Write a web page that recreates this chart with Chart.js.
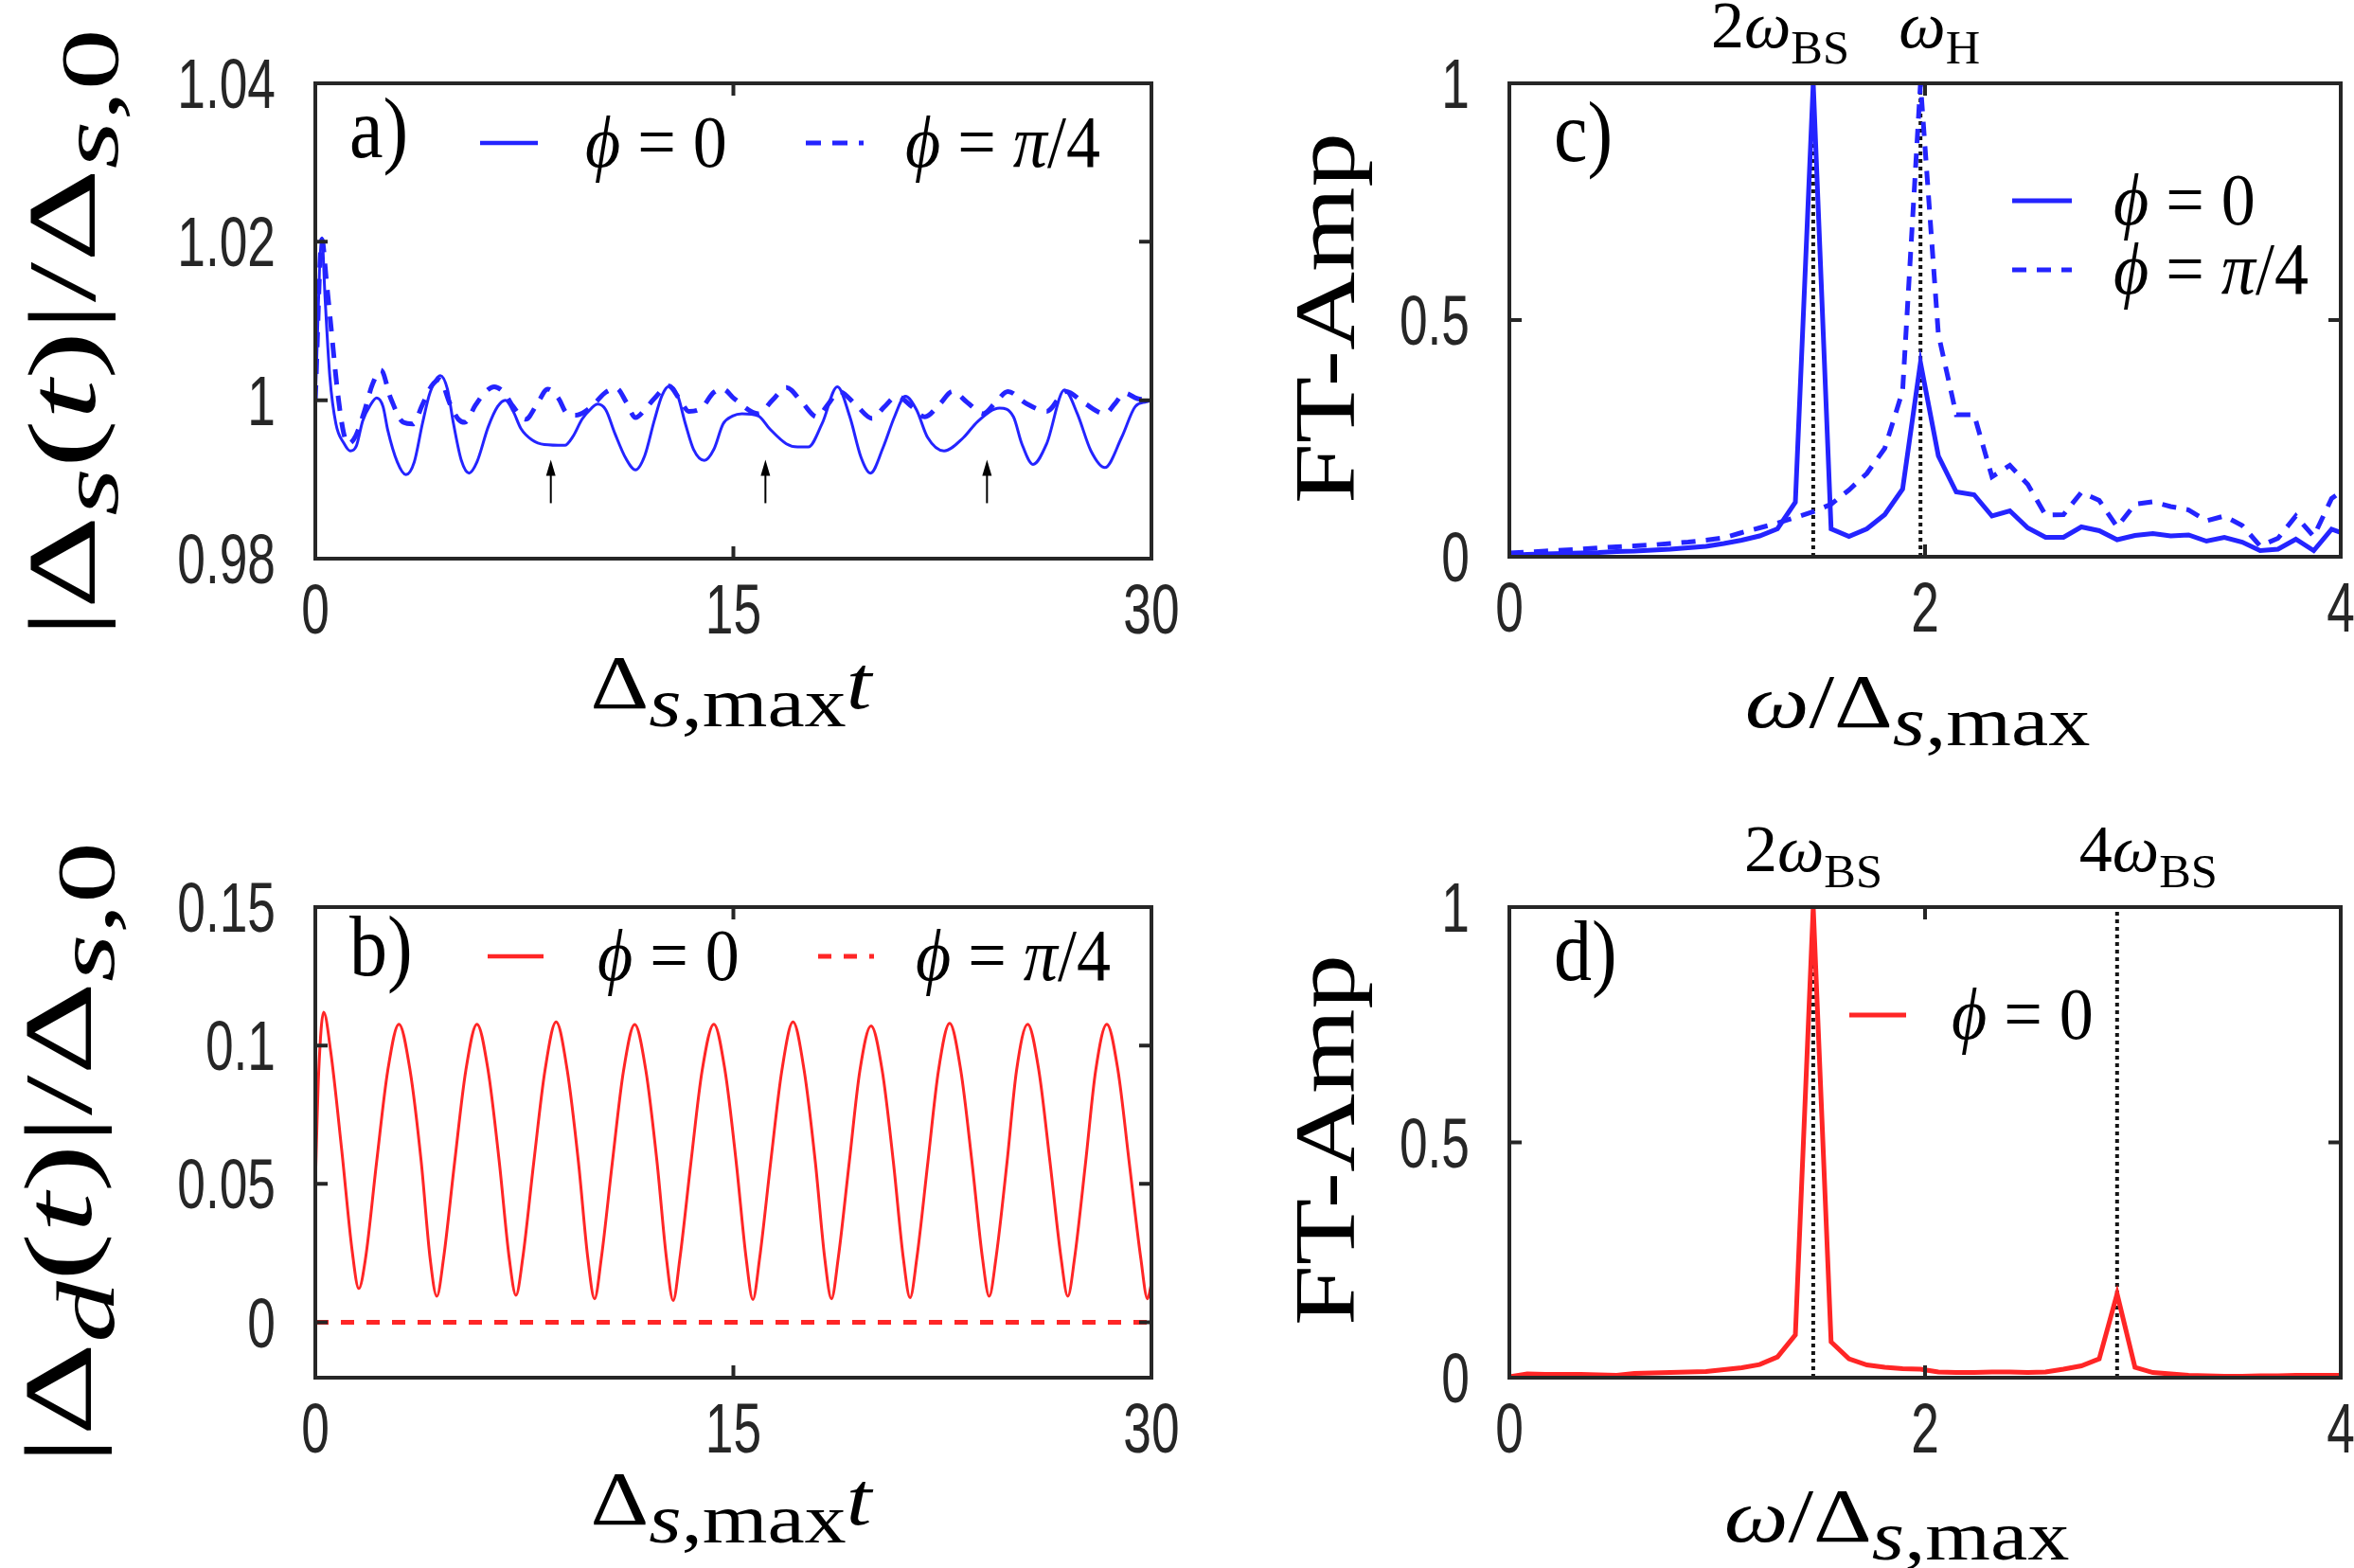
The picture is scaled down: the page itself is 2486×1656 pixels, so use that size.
<!DOCTYPE html>
<html>
<head>
<meta charset="utf-8">
<script src="https://cdn.jsdelivr.net/npm/chart.js@4.4.1/dist/chart.umd.min.js"></script>
<style>
  html, body { margin: 0; padding: 0; background: #fff; }
  #fig { position: relative; width: 2486px; height: 1656px; }
  #fig canvas { position: absolute; left: 0; top: 0; }
</style>
</head>
<body>
<div id="fig">
  <canvas id="pa" width="2486" height="1656"></canvas>
  <canvas id="pb" width="2486" height="1656"></canvas>
  <canvas id="pc" width="2486" height="1656"></canvas>
  <canvas id="pd" width="2486" height="1656"></canvas>
</div>
<script>
/* ===== data ===== */
// a) |Δs(t)|/Δs,0, phi = 0
const tA0 = [0, 0.236, 0.35, 0.52, 0.74, 1.02, 1.25, 1.47, 1.70, 1.98, 2.20, 2.43, 2.60, 2.94, 3.25, 3.55, 3.84, 4.12, 4.49, 4.74,
  4.96, 5.24, 5.52, 5.80, 6.20, 6.54, 6.82, 7.10, 7.38, 7.77, 8.22, 8.95, 9.24, 9.57, 9.91, 10.13, 10.42, 10.75, 11.15, 11.49,
  11.82, 12.16, 12.44, 12.72, 13.0, 13.28, 13.57, 13.96, 14.3, 14.63, 14.97, 15.31, 15.90, 16.30, 16.90, 17.30, 17.69, 18.19, 18.73, 19.18,
  19.58, 19.92, 20.38, 20.78, 21.17, 21.57, 21.97, 22.56, 23.26, 23.76, 24.55, 25.05, 25.35, 25.75, 26.24, 26.88, 27.34, 27.83, 28.33, 28.93,
  29.42, 29.82, 30];
const yA0 = [1.0, 1.0205, 1.0129, 1.0030, 0.9970, 0.9946, 0.9936, 0.9942, 0.9974, 0.9994, 1.0003, 0.9992, 0.9962, 0.9922, 0.9906, 0.9922, 0.9970, 1.0010, 1.0031, 1.0014,
  0.9970, 0.9924, 0.9908, 0.9922, 0.9966, 0.9992, 1.0000, 0.9986, 0.9964, 0.9950, 0.9944, 0.9943, 0.9954, 0.9976, 0.9990, 0.9995, 0.9988, 0.9958, 0.9926, 0.9912,
  0.9930, 0.9974, 1.0006, 1.0018, 1.0006, 0.9970, 0.9938, 0.9924, 0.9938, 0.9970, 0.9980, 0.9983, 0.9980, 0.9964, 0.9945, 0.9941, 0.9941, 0.9971, 1.0017, 0.9979,
  0.9928, 0.9908, 0.9941, 0.9979, 1.0005, 0.9988, 0.9953, 0.9936, 0.9953, 0.9973, 0.9990, 0.9979, 0.9945, 0.9919, 0.9945, 1.0013, 0.9983, 0.9936, 0.9915, 0.9953,
  0.9992, 0.9998, 1.0];
// a) phi = pi/4
const tA4 = [0, 0.236, 0.40, 0.57, 0.80, 1.02, 1.19, 1.45, 1.75, 2.05, 2.35, 2.71, 3.16, 3.5, 3.84, 4.17, 4.45, 4.85, 5.13, 5.36,
  5.75, 6.09, 6.42, 6.76, 7.10, 7.55, 7.94, 8.34, 8.73, 9.01, 9.35, 9.69, 10.02, 10.42, 10.81, 11.15, 11.49, 11.82, 12.16, 12.67,
  13.06, 13.4, 13.85, 14.3, 14.63, 15.03, 15.9, 16.4, 16.9, 17.45, 18.0, 18.4, 18.79, 19.4, 19.98, 20.4, 20.87, 21.4, 21.87, 22.4,
  22.86, 23.4, 23.96, 24.4, 24.85, 25.5, 26.24, 26.94, 27.6, 28.33, 28.7, 29.03, 29.5, 30];
const yA4 = [1.0, 1.0203, 1.015, 1.009, 1.001, 0.9958, 0.9945, 0.9955, 0.9985, 1.002, 1.0038, 1.0002, 0.9972, 0.997, 0.9994, 1.0018, 1.0026, 0.9994, 0.9976, 0.9972,
  0.9994, 1.001, 1.0017, 1.001, 0.9992, 0.9976, 0.9994, 1.0014, 1.0002, 0.9984, 0.9981, 0.9986, 0.9996, 1.001, 1.0015, 0.9998, 0.9978, 0.9988, 1.0002, 1.0018,
  1.0002, 0.9986, 0.999, 1.001, 1.0014, 1.0002, 0.9983, 1.0, 1.0016, 0.9998, 0.9979, 0.9995, 1.0011, 0.9994, 0.9977, 0.9991, 1.0005, 0.9992, 0.9979, 0.9995,
  1.0011, 0.9997, 0.9983, 0.9997, 1.0011, 0.9996, 0.9986, 1.0011, 0.9996, 0.9983, 0.9996, 1.0009, 1.0002, 1.0];
const arrowT = [8.45, 16.15, 24.1];          // small arrows in a)
const arrowY = [0.987, 0.9925];              // tail, tip

// b) |Δd(t)|/Δs,0
const tB0 = [0, 0.12, 0.3, 0.55, 0.95, 1.32, 1.56,
  1.80, 2.20, 2.60, 3.0, 3.40, 3.80, 4.12, 4.36,
  4.60, 5.00, 5.40, 5.80, 6.20, 6.60, 6.96, 7.20,
  7.44, 7.84, 8.24, 8.64, 9.04, 9.44, 9.78, 10.02,
  10.26, 10.66, 11.06, 11.46, 11.86, 12.26, 12.60, 12.84,
  13.08, 13.48, 13.88, 14.30, 14.70, 15.10, 15.46, 15.70,
  15.94, 16.34, 16.74, 17.14, 17.54, 17.94, 18.28, 18.52,
  18.76, 19.16, 19.54, 19.94, 20.34, 20.74, 21.10, 21.34,
  21.58, 21.98, 22.36, 22.76, 23.16, 23.56, 23.94, 24.18,
  24.42, 24.82, 25.16, 25.56, 25.96, 26.36, 26.76, 27.00,
  27.24, 27.64, 28.00, 28.40, 28.80, 29.20, 29.62, 29.86, 30];
const yB0 = [0.05, 0.09, 0.112, 0.098, 0.062, 0.026, 0.0122,
  0.023, 0.058, 0.091, 0.1077, 0.091, 0.058, 0.023, 0.0094,
  0.023, 0.058, 0.091, 0.1077, 0.091, 0.058, 0.023, 0.0098,
  0.023, 0.058, 0.091, 0.1085, 0.091, 0.058, 0.023, 0.0085,
  0.023, 0.058, 0.091, 0.1076, 0.091, 0.058, 0.023, 0.0079,
  0.023, 0.058, 0.091, 0.1077, 0.091, 0.058, 0.023, 0.0082,
  0.023, 0.058, 0.091, 0.1085, 0.091, 0.058, 0.023, 0.0085,
  0.023, 0.058, 0.091, 0.1071, 0.091, 0.058, 0.023, 0.0089,
  0.023, 0.058, 0.091, 0.1080, 0.091, 0.058, 0.023, 0.0094,
  0.023, 0.058, 0.091, 0.1077, 0.091, 0.058, 0.023, 0.0094,
  0.023, 0.058, 0.091, 0.1077, 0.091, 0.058, 0.023, 0.0085, 0.014];
const tB4 = [0, 30];
const yB4 = [0, 0];

// c), d) spectra
const freq = [0, 0.086, 0.172, 0.258, 0.344, 0.43, 0.516, 0.602, 0.688, 0.774, 0.86, 0.946, 1.032, 1.118, 1.204, 1.29,
  1.376, 1.462, 1.548, 1.634, 1.72, 1.806, 1.892, 1.978, 2.064, 2.15, 2.236, 2.322, 2.408, 2.494, 2.58, 2.666,
  2.752, 2.838, 2.924, 3.01, 3.096, 3.182, 3.268, 3.354, 3.44, 3.526, 3.612, 3.698, 3.784, 3.87, 3.956, 4.042];
const ampC0 = [0.003, 0.005, 0.006, 0.007, 0.008, 0.009, 0.011, 0.012, 0.014, 0.016, 0.019, 0.022, 0.028, 0.035, 0.044, 0.059,
  0.115, 1.0, 0.059, 0.043, 0.059, 0.089, 0.143, 0.41, 0.213, 0.137, 0.131, 0.086, 0.097, 0.061, 0.041, 0.041,
  0.063, 0.055, 0.036, 0.045, 0.049, 0.044, 0.046, 0.033, 0.041, 0.031, 0.013, 0.016, 0.037, 0.013, 0.058, 0.045];
const ampC4 = [0.008, 0.010, 0.012, 0.014, 0.016, 0.019, 0.021, 0.023, 0.025, 0.028, 0.031, 0.035, 0.040, 0.051, 0.061, 0.071,
  0.083, 0.095, 0.111, 0.141, 0.176, 0.229, 0.35, 1.0, 0.47, 0.30, 0.30, 0.169, 0.193, 0.153, 0.088, 0.089,
  0.136, 0.119, 0.063, 0.111, 0.116, 0.106, 0.099, 0.076, 0.086, 0.066, 0.023, 0.039, 0.086, 0.043, 0.123, 0.15];
const ampD0 = [0.002, 0.008, 0.007, 0.007, 0.007, 0.006, 0.005, 0.009, 0.010, 0.011, 0.012, 0.013, 0.017, 0.021, 0.028, 0.044,
  0.091, 1.0, 0.076, 0.040, 0.027, 0.022, 0.019, 0.018, 0.012, 0.011, 0.011, 0.012, 0.012, 0.011, 0.012, 0.018,
  0.025, 0.040, 0.178, 0.022, 0.011, 0.008, 0.005, 0.004, 0.003, 0.003, 0.004, 0.004, 0.005, 0.005, 0.005, 0.005];
const markC = [1.462, 1.978];   // 2ω_BS, ω_H
const markD = [1.462, 2.924];   // 2ω_BS, 4ω_BS

// axis ticks
const ticksT = [0, 15, 30];
const ticksA = [0.98, 1, 1.02, 1.04];
const ticksB = [0, 0.05, 0.1, 0.15];
const ticksW = [0, 2, 4];
const ticksFT = [0, 0.5, 1];

/* ===== styling ===== */
const W = 2486, H = 1656;
const BLUE = '#2424ff', RED = '#ff2626', INK = '#262626';
const SANS = '"Liberation Sans", Arial, sans-serif';
const SERIF = '"Liberation Serif", "Times New Roman", serif';
const fmt = v => String(+Number(v).toFixed(4));

const pts = (xs, ys) => xs.map((x, i) => ({x, y: ys[i]}));
const line = (data, color, width, dash, smooth) => ({
  data, borderColor: color, borderWidth: width, borderDash: dash || [],
  pointRadius: 0, showLine: true, fill: false, tension: 0,
  cubicInterpolationMode: smooth ? 'monotone' : 'default', clip: 0
});
const vmark = v => line([{x: v, y: 0}, {x: v, y: 1}], '#151515', 4, [4, 4]);

// math text: runs of [text, flags]; flags 'i' italic, 's' subscript
function mathText(ctx, runs, x, y, o) {
  const size = o.size, subR = o.subR || 0.75;
  ctx.save();
  ctx.translate(x, y);
  ctx.scale(o.sx || 1, o.sy || 1);
  if (o.rot) ctx.rotate(-Math.PI / 2);
  let w = 0;
  const items = runs.map(([t, f = '']) => {
    const sub = f.includes('s');
    const font = `${f.includes('i') ? 'italic ' : ''}${sub ? size * subR : size}px ${SERIF}`;
    ctx.font = font;
    const it = {t, font, x: w, dy: sub ? size * 0.24 : 0};
    w += ctx.measureText(t).width;
    return it;
  });
  const x0 = o.align === 'left' ? 0 : -w / 2;
  ctx.fillStyle = '#000';
  ctx.textBaseline = 'alphabetic';
  items.forEach(it => { ctx.font = it.font; ctx.fillText(it.t, x0 + it.x, it.dy); });
  ctx.restore();
}

// tick label in the narrow sans used by the figure
function tickText(ctx, s, x, y, align) {
  ctx.save();
  ctx.translate(x, y);
  ctx.scale(0.72, 1);
  ctx.font = `74px ${SANS}`;
  ctx.fillStyle = INK;
  ctx.textAlign = align;
  ctx.textBaseline = 'alphabetic';
  ctx.fillText(s, 0, 0);
  ctx.restore();
}

function decor(d) {
  return {
    id: 'decor',
    afterDraw(chart) {
      const {ctx, chartArea: a, scales: {x, y}} = chart;
      ctx.save();
      // box + inward ticks on all sides
      ctx.strokeStyle = INK; ctx.lineWidth = 4;
      ctx.strokeRect(a.left, a.top, a.right - a.left, a.bottom - a.top);
      const TL = 13;
      ctx.beginPath();
      x.ticks.forEach(t => {
        const p = x.getPixelForValue(t.value);
        ctx.moveTo(p, a.bottom); ctx.lineTo(p, a.bottom - TL);
        ctx.moveTo(p, a.top); ctx.lineTo(p, a.top + TL);
      });
      y.ticks.forEach(t => {
        const p = y.getPixelForValue(t.value);
        ctx.moveTo(a.left, p); ctx.lineTo(a.left + TL, p);
        ctx.moveTo(a.right, p); ctx.lineTo(a.right - TL, p);
      });
      ctx.stroke();
      // tick labels
      x.ticks.forEach(t => tickText(ctx, fmt(t.value), x.getPixelForValue(t.value), a.bottom + 79, 'center'));
      y.ticks.forEach(t => tickText(ctx, fmt(t.value), a.left - 42, y.getPixelForValue(t.value) + 26, 'right'));

      // arrows
      if (d.arrows) {
        ctx.strokeStyle = '#000'; ctx.fillStyle = '#000'; ctx.lineWidth = 2;
        d.arrows.forEach(t => {
          const px = x.getPixelForValue(t), p0 = y.getPixelForValue(arrowY[0]), p1 = y.getPixelForValue(arrowY[1]);
          ctx.beginPath(); ctx.moveTo(px, p0); ctx.lineTo(px, p1 + 10); ctx.stroke();
          ctx.beginPath(); ctx.moveTo(px, p1); ctx.lineTo(px - 5, p1 + 17); ctx.lineTo(px + 5, p1 + 17); ctx.closePath(); ctx.fill();
        });
      }

      // legend
      (d.legend || []).forEach(it => {
        const ds = chart.data.datasets[it.ds];
        ctx.strokeStyle = ds.borderColor; ctx.lineWidth = Math.max(ds.borderWidth, 4.5);
        ctx.setLineDash(ds.borderDash || []);
        ctx.beginPath(); ctx.moveTo(it.x0, it.y); ctx.lineTo(it.x1, it.y); ctx.stroke();
        ctx.setLineDash([]);
        mathText(ctx, it.runs, it.tx, it.y + 25, {size: 72, align: 'left', sy: 1.1});
      });

      // labels over the marker lines
      (d.marks || []).forEach(m => {
        mathText(ctx, m.runs, x.getPixelForValue(m.v) + m.dx, m.y, {size: 70, subR: 0.72});
      });

      // panel tag
      mathText(ctx, [[d.tag]], d.tagX, d.tagY, {size: 80, align: 'left', sy: 1.15});
      // axis titles
      mathText(ctx, d.xlab.runs, d.xlab.x, d.xlab.y, {size: 80, sx: 1.2, subR: 0.92});
      mathText(ctx, d.ylab.runs, d.ylab.x, d.ylab.y, {size: d.ylab.size, rot: true, sy: d.ylab.sy, subR: 0.85});
      ctx.restore();
    }
  };
}

function axis([min, max], ticks) {
  return {
    type: 'linear', min, max,
    grid: {display: false, drawTicks: false},
    border: {display: false},
    ticks: {display: false},
    afterBuildTicks: s => { s.ticks = ticks.map(value => ({value})); },
    afterFit: s => { if (s.isHorizontal()) s.height = 0; else s.width = 0; }
  };
}

function panel(id, box, xr, xt, yr, yt, datasets, d) {
  return new Chart(document.getElementById(id), {
    type: 'scatter',
    data: {datasets},
    options: {
      responsive: false, animation: false, events: [],
      layout: {padding: {left: box[0], top: box[1], right: W - box[2], bottom: H - box[3]}},
      plugins: {legend: {display: false}, tooltip: {enabled: false}},
      scales: {x: axis(xr, xt), y: axis(yr, yt)}
    },
    plugins: [decor(d)]
  });
}

const phi0 = [['ϕ', 'i'], [' = 0']];
const phi4 = [['ϕ', 'i'], [' = '], ['π', 'i'], ['/4']];
const xlabT = [['Δ'], ['s', 'is'], [',max', 's'], ['t', 'i']];
const xlabW = [['ω', 'i'], ['/Δ'], ['s', 'is'], [',max', 's']];
const ftAmp = [['FT-Amp']];

panel('pa', [333, 88, 1216, 590], [0, 30], ticksT, [0.98, 1.04], ticksA, [
  line(pts(tA0, yA0), BLUE, 3, [], true),
  line(pts(tA4, yA4), BLUE, 5, [16, 12], true)
], {
  tag: 'a)', tagX: 369, tagY: 166, arrows: arrowT,
  legend: [{ds: 0, x0: 507, x1: 568, y: 151, tx: 618, runs: phi0},
           {ds: 1, x0: 851, x1: 912, y: 151, tx: 956, runs: phi4}],
  xlab: {runs: xlabT, x: 772, y: 748},
  ylab: {runs: [['|Δ'], ['s', 'is'], ['('], ['t', 'i'], [')|/Δ'], ['s', 'is'], [',0', 's']], x: 100, y: 352, size: 102, sy: 1.5}
});

panel('pb', [333, 958, 1216, 1455], [0, 30], ticksT, [-0.02, 0.15], ticksB, [
  line(pts(tB0, yB0), RED, 3, [], true),
  line(pts(tB4, yB4), RED, 5, [14, 13], false)
], {
  tag: 'b)', tagX: 369, tagY: 1030,
  legend: [{ds: 0, x0: 515, x1: 574, y: 1010, tx: 631, runs: phi0},
           {ds: 1, x0: 864, x1: 923, y: 1010, tx: 967, runs: phi4}],
  xlab: {runs: xlabT, x: 772, y: 1610},
  ylab: {runs: [['|Δ'], ['d', 'is'], ['('], ['t', 'i'], [')|/Δ'], ['s', 'is'], [',0', 's']], x: 96, y: 1218, size: 102, sy: 1.5}
});

panel('pc', [1594, 88, 2472, 588], [0, 4], ticksW, [0, 1], ticksFT, [
  line(pts(freq, ampC0), BLUE, 5),
  line(pts(freq, ampC4), BLUE, 5, [15, 11]),
  vmark(markC[0]), vmark(markC[1])
], {
  tag: 'c)', tagX: 1641, tagY: 170,
  legend: [{ds: 0, x0: 2125, x1: 2188, y: 212, tx: 2232, runs: phi0},
           {ds: 1, x0: 2125, x1: 2188, y: 285, tx: 2232, runs: phi4}],
  marks: [{v: markC[0], dx: -35, y: 50, runs: [['2'], ['ω', 'i'], ['BS', 's']]},
          {v: markC[1], dx: 20, y: 50, runs: [['ω', 'i'], ['H', 's']]}],
  xlab: {runs: xlabW, x: 2025, y: 768},
  ylab: {runs: ftAmp, x: 1430, y: 336, size: 92, sy: 1.25}
});

panel('pd', [1594, 958, 2472, 1455], [0, 4], ticksW, [0, 1], ticksFT, [
  line(pts(freq, ampD0), RED, 5),
  vmark(markD[0]), vmark(markD[1])
], {
  tag: 'd)', tagX: 1641, tagY: 1035,
  legend: [{ds: 0, x0: 1953, x1: 2013, y: 1072, tx: 2061, runs: phi0}],
  marks: [{v: markD[0], dx: 0, y: 920, runs: [['2'], ['ω', 'i'], ['BS', 's']]},
          {v: markD[1], dx: 33, y: 920, runs: [['4'], ['ω', 'i'], ['BS', 's']]}],
  xlab: {runs: xlabW, x: 2003, y: 1628},
  ylab: {runs: ftAmp, x: 1430, y: 1204, size: 92, sy: 1.25}
});
</script>
</body>
</html>
